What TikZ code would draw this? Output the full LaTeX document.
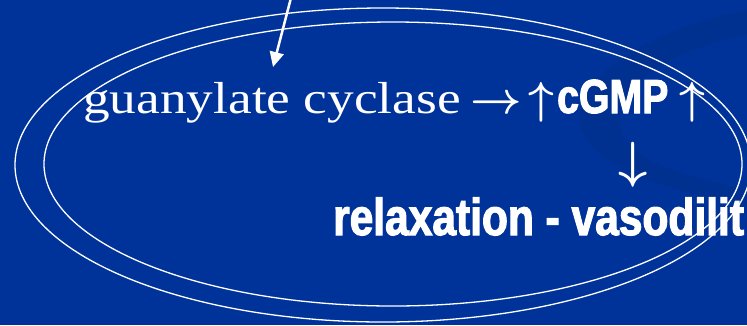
\RequirePackage{fix-cm}
\documentclass[tikz,border=0pt]{standalone}
\usepackage{fontspec}
\setmainfont{Liberation Serif}
\newfontfamily\slideserif{Liberation Serif}[FakeStretch=1.19]
\newfontfamily\slideheavy{Liberation Sans}[FakeStretch=0.82,FakeBold=2.2]
\usetikzlibrary{arrows.meta}
\definecolor{slideblue}{HTML}{003399}
\definecolor{swooshblue}{HTML}{003090}

\begin{document}
\begin{tikzpicture}[
  x=1bp, y=-1bp,
  >={Triangle[length=15bp,width=14bp]},
  ring/.style={draw=white, line width=1.3bp},
  serifline/.style={text=white, inner sep=0pt, anchor=base west,
                    font=\slideserif\fontsize{45}{54}\selectfont},
  heavyline/.style={text=white, inner sep=0pt, anchor=base west,
                    font=\slideheavy\bfseries\fontsize{52}{62}\selectfont},
  glyph/.style={text=white, inner sep=0pt, anchor=base,
                font=\boldmath\fontsize{45}{54}\selectfont},
  feed/.style={->, white, line width=2.5bp},
]
\useasboundingbox (0,0) rectangle (747,325);
\clip (0,0) rectangle (747,325);
\fill[slideblue] (0,0) rectangle (747,325);

% darker swoosh, top right
\fill[swooshblue] (747,10) .. controls (650,28) and (570,80) .. (580,125)
  .. controls (590,165) and (660,190) .. (747,205) -- (747,190)
  .. controls (680,175) and (625,160) .. (620,125)
  .. controls (615,85) and (670,50) .. (747,35) -- cycle;

% the two rings
\draw[ring] (383,165) ellipse [x radius=368bp, y radius=157bp];
\draw[ring] (393,164) ellipse [x radius=349bp, y radius=142bp];

% first line
\node[serifline] (gc) at (83,113) {guanylate cyclase};
\node[glyph] (yields) at (496,113) {$\rightarrow$};
\node[glyph] (upa) at (541,113) {$\uparrow$};
\node[heavyline, font=\slideheavy\bfseries\fontsize{48}{58}\selectfont]
  (cgmp) at (557,113) {cGMP};
\node[glyph] (upb) at (692,113) {$\uparrow$};

% second step
\node[glyph, font=\boldmath\fontsize{51}{60}\selectfont] (down) at (633,177) {$\downarrow$};
\node[heavyline] (relax) at (333,235) {relaxation - vasodilit};

\coordinate (src) at (292,-6);
\coordinate (hit) at (273,67);
\draw[feed] (src) -- (hit);
\end{tikzpicture}
\end{document}
